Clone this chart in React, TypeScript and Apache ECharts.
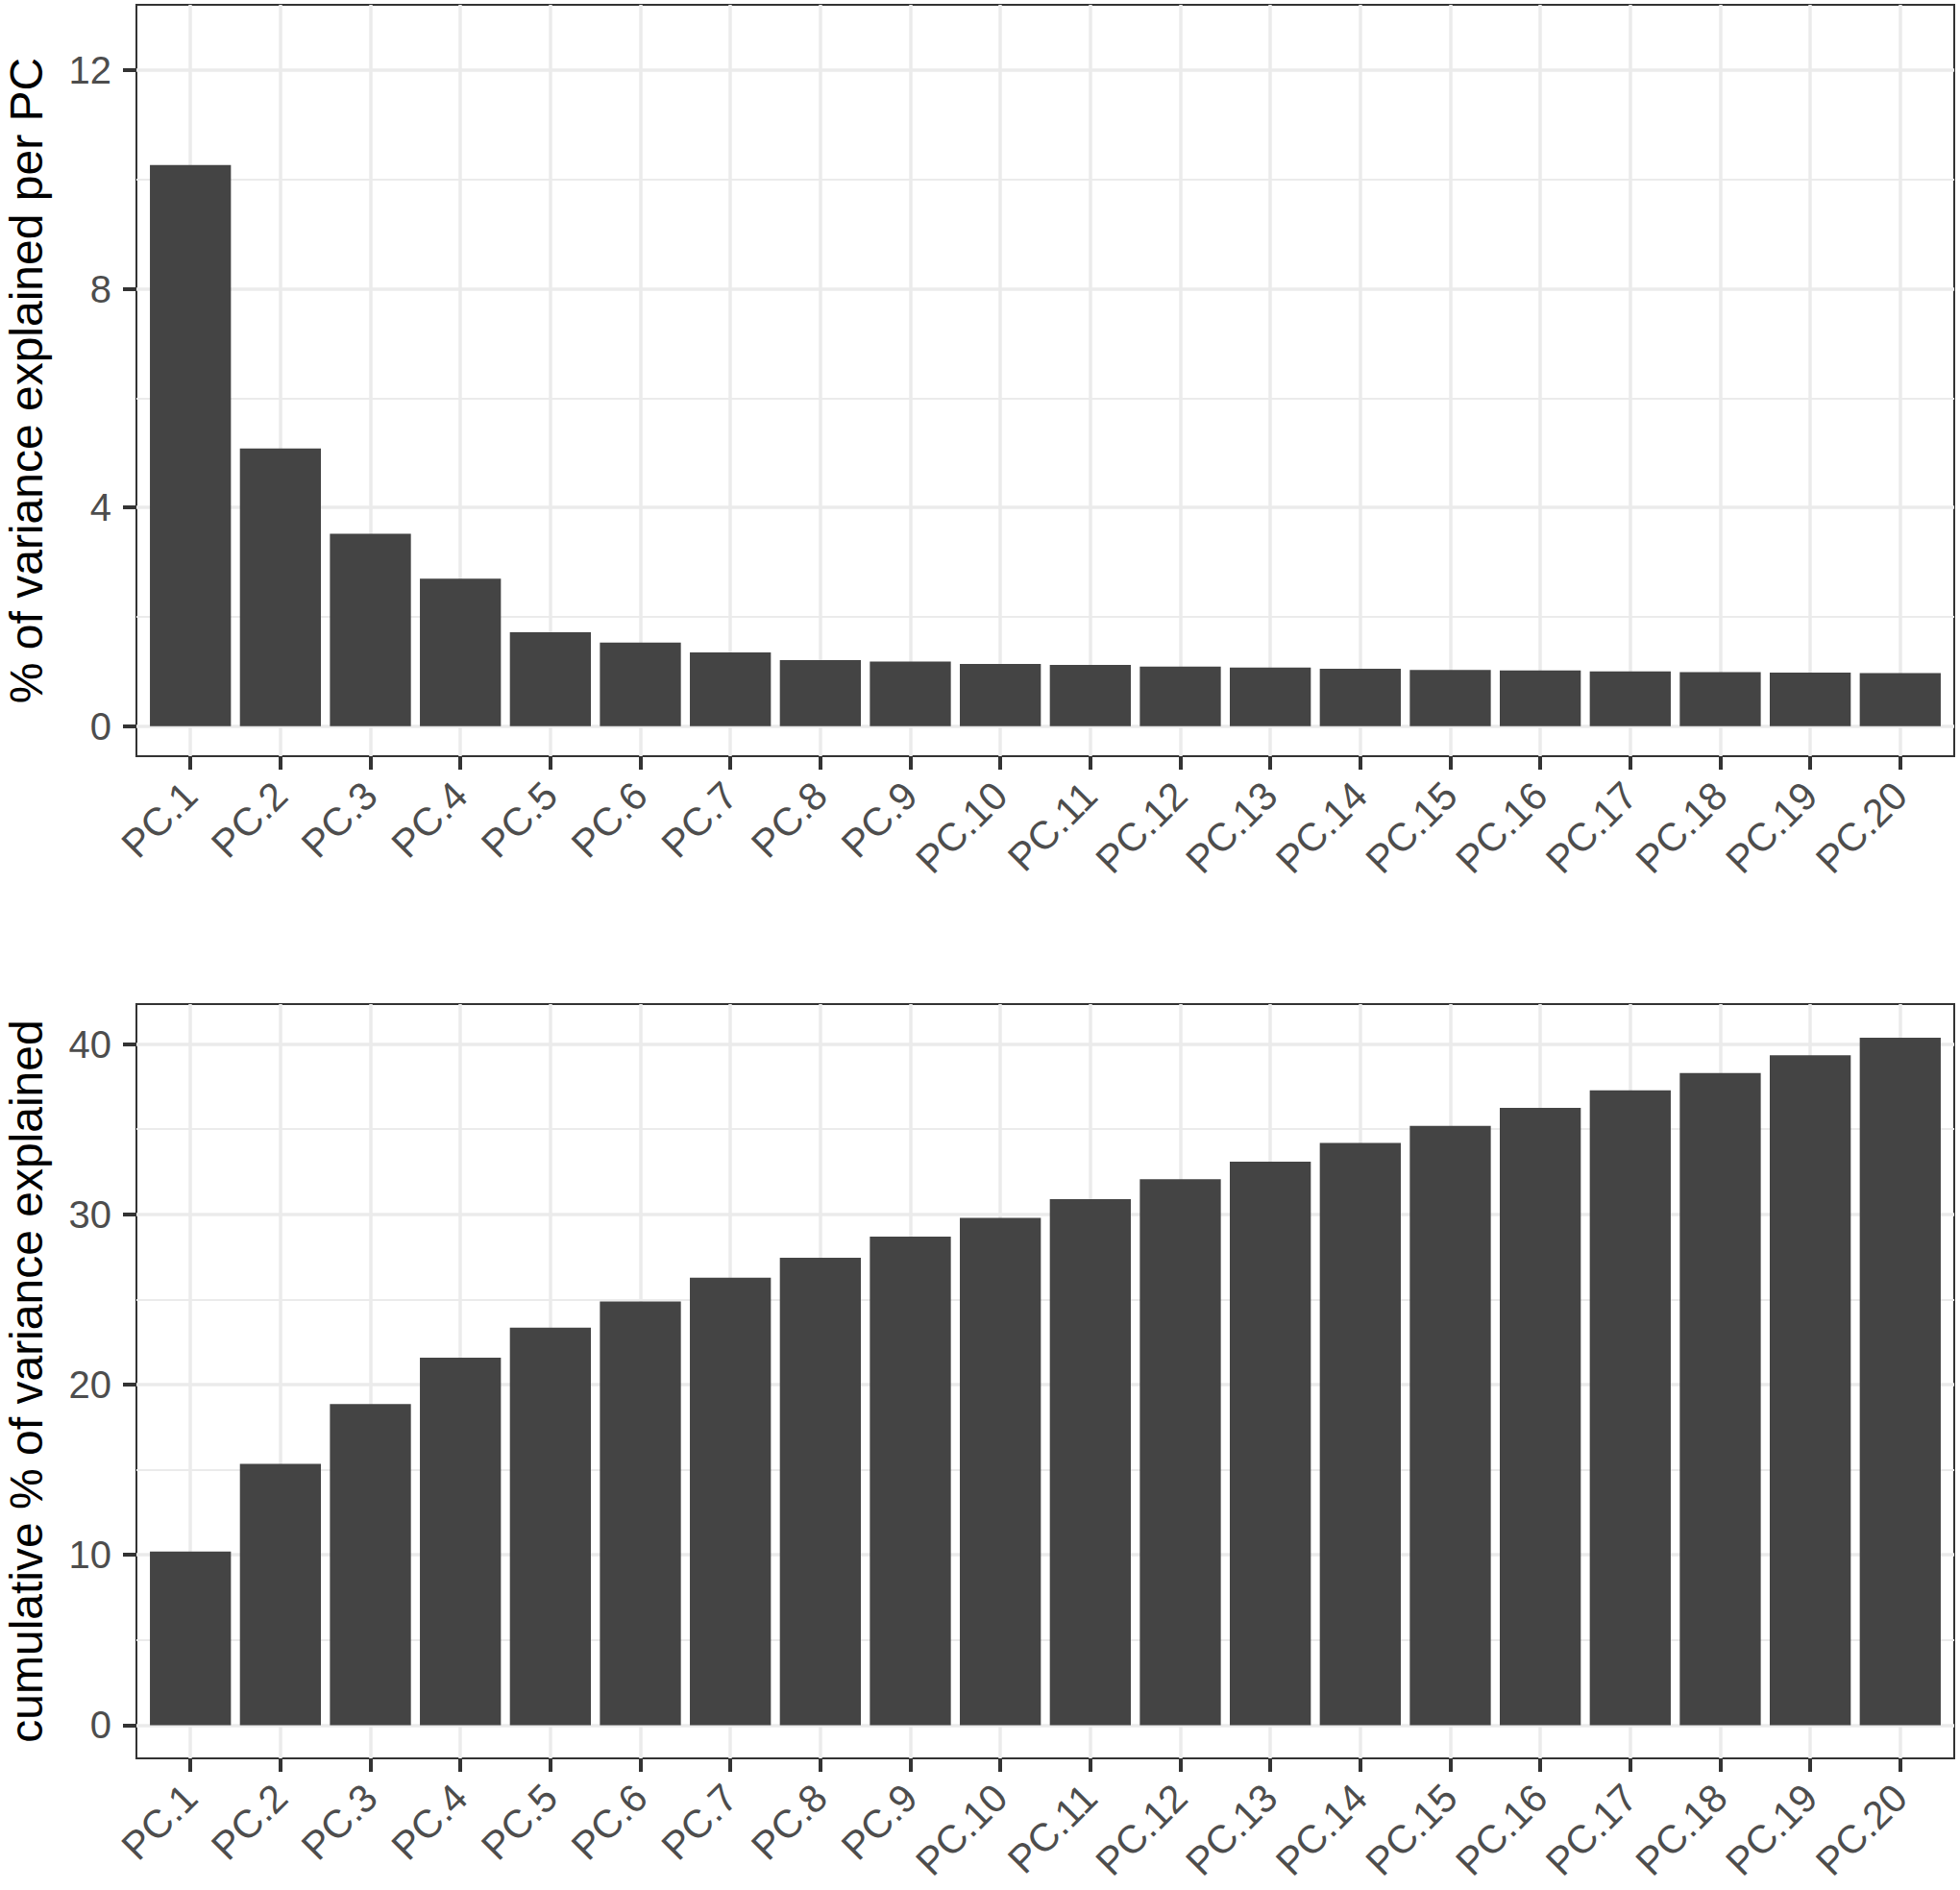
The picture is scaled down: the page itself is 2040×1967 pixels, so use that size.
import React, { useEffect, useRef } from "react";
import * as echarts from "echarts";

const categories = [
  "PC.1", "PC.2", "PC.3", "PC.4", "PC.5", "PC.6", "PC.7", "PC.8", "PC.9", "PC.10",
  "PC.11", "PC.12", "PC.13", "PC.14", "PC.15", "PC.16", "PC.17", "PC.18", "PC.19", "PC.20",
];
const perPC = [10.27, 5.08, 3.52, 2.7, 1.72, 1.53, 1.35, 1.21, 1.18, 1.14, 1.12, 1.09, 1.07, 1.05, 1.03, 1.02, 1.0, 0.99, 0.98, 0.97];
const cumulative = [10.2, 15.34, 18.86, 21.58, 23.34, 24.88, 26.28, 27.45, 28.7, 29.8, 30.9, 32.07, 33.1, 34.2, 35.2, 36.26, 37.28, 38.3, 39.34, 40.37];
const topMajorTicks = [0, 4, 8, 12];
const topMinorTicks = [2, 6, 10];
const bottomMajorTicks = [0, 10, 20, 30, 40];
const bottomMinorTicks = [5, 15, 25, 35];
const topTitle = "% of variance explained per PC";
const bottomTitle = "cumulative % of variance explained";

const FONT = "Liberation Sans, Arial, Helvetica, sans-serif";
const GRID_COLOR = "#EBEBEB";
const DARK = "#333333";

export default function App() {
  const ref = useRef<HTMLDivElement>(null);
  useEffect(() => {
    if (!ref.current) return;
    const chart = echarts.init(ref.current, undefined, { renderer: "svg" });
    const positions = categories.map((_, i) => i + 1);

    const makeX = (gridIndex: number) => ({
      type: "value",
      gridIndex,
      min: 0.4,
      max: 20.6,
      axisLine: { show: false, onZero: false },
      axisTick: {
        show: true,
        customValues: positions,
        length: 14,
        lineStyle: { color: DARK, width: 4 },
      },
      axisLabel: {
        customValues: positions,
        formatter: (v: number) => categories[Math.round(v) - 1] ?? "",
        rotate: 45,
        margin: 34,
        fontSize: 41,
        color: "#4D4D4D",
        fontFamily: FONT,
      },
      splitLine: { show: true, lineStyle: { color: GRID_COLOR, width: 3.5 } },
    });

    const makeYMajor = (gridIndex: number, min: number, max: number, ticks: number[], name: string, nameGap: number) => ({
      type: "value",
      gridIndex,
      min,
      max,
      name,
      nameLocation: "middle",
      nameGap,
      nameTextStyle: { fontSize: 48, lineHeight: 48, color: "#000000", fontFamily: FONT },
      axisLine: { show: false, onZero: false },
      axisTick: {
        show: true,
        customValues: ticks,
        length: 14,
        lineStyle: { color: DARK, width: 4 },
      },
      axisLabel: {
        customValues: ticks,
        margin: 26,
        fontSize: 40,
        color: "#4D4D4D",
        fontFamily: FONT,
      },
      splitLine: { show: true, lineStyle: { color: GRID_COLOR, width: 3.5 } },
    });

    const makeYMinor = (gridIndex: number, min: number, max: number, ticks: number[]) => ({
      type: "value",
      gridIndex,
      min,
      max,
      position: "left",
      axisLine: { show: false, onZero: false },
      axisTick: { show: false, customValues: ticks },
      axisLabel: { show: false, customValues: ticks },
      splitLine: { show: true, lineStyle: { color: GRID_COLOR, width: 1.8 } },
    });

    chart.setOption({
      animation: false,
      backgroundColor: "#ffffff",
      grid: [
        { left: 142, right: 6, top: 5, height: 782, outerBoundsMode: "none", containLabel: false, show: true, borderColor: DARK, borderWidth: 2, backgroundColor: "transparent" },
        { left: 142, right: 6, top: 1045, height: 785, outerBoundsMode: "none", containLabel: false, show: true, borderColor: DARK, borderWidth: 2, backgroundColor: "transparent" },
      ],
      xAxis: [makeX(0), makeX(1)],
      yAxis: [
        makeYMajor(0, -0.55, 13.2, topMajorTicks, topTitle, 91),
        makeYMajor(1, -1.95, 42.35, bottomMajorTicks, bottomTitle, 91),
        makeYMinor(0, -0.55, 13.2, topMinorTicks),
        makeYMinor(1, -1.95, 42.35, bottomMinorTicks),
      ],
      series: [
        {
          type: "bar",
          xAxisIndex: 0,
          yAxisIndex: 0,
          barWidth: "90%",
          itemStyle: { color: "#444444" },
          data: perPC.map((v, i) => [positions[i], v]),
        },
        {
          type: "bar",
          xAxisIndex: 1,
          yAxisIndex: 1,
          barWidth: "90%",
          itemStyle: { color: "#444444" },
          data: cumulative.map((v, i) => [positions[i], v]),
        },
      ],
    });
    return () => chart.dispose();
  }, []);

  return (
    <div
      ref={ref}
      style={{ position: "absolute", left: 0, top: 0, width: 2040, height: 1967, background: "#fff" }}
    />
  );
}
